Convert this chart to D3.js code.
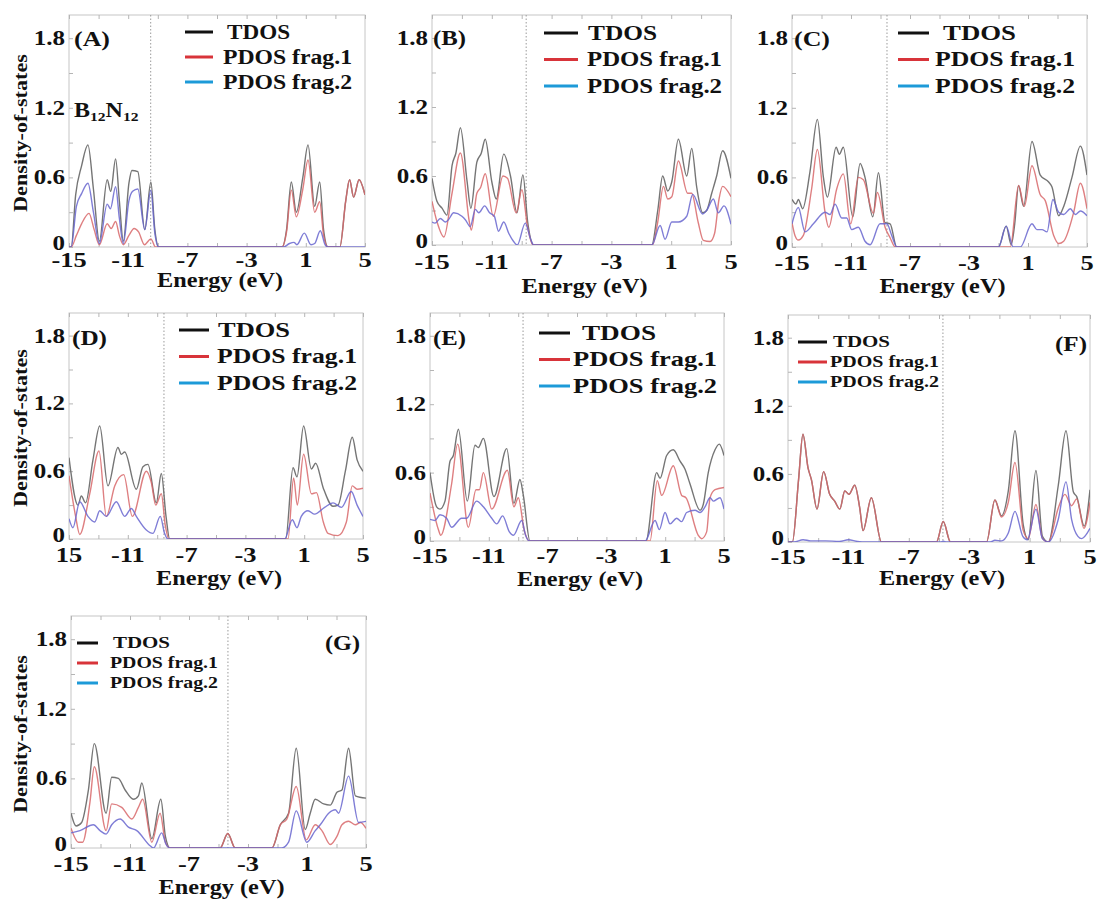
<!DOCTYPE html>
<html>
<head>
<meta charset="utf-8">
<script src="https://cdn.jsdelivr.net/npm/d3@7"></script>
<style>
body { margin: 0; background: #fff; }
text { font-family: "Liberation Serif", "Times New Roman", serif; font-weight: bold; fill: #111; }
</style>
</head>
<body>
<div id="chart-area"></div>
<script>

// ---- data: [energy (eV), DOS] ----
var panelNames = ["(A)", "(B)", "(C)", "(D)", "(E)", "(F)", "(G)"];
var homoLevels = [-9.48, -8.7, -8.56, -8.54, -8.67, -4.74, -4.36];
var legendLabels = ["TDOS", "PDOS frag.1", "PDOS frag.2"];
var yTickValues = [0, 0.6, 1.2, 1.8];
var yTickLabels = ["0", "0.6", "1.2", "1.8"];
var xTickValues = [-15, -11, -7, -3, 1, 5];
var xTickLabels = ["-15", "-11", "-7", "-3", "1", "5"];
var xTickLabelsD = ["15", "-11", "-7", "-3", "1", "5"];

var tdosA = [[-15,0],[-14.85,0],[-14.55,0.45],[-14.15,0.7],[-13.72,0.88],[-13.35,0.5],[-12.95,0.05],[-12.42,0.58],[-12.18,0.48],[-11.85,0.76],[-11.6,0.4],[-11.33,0.05],[-10.95,0.55],[-10.75,0.66],[-10.35,0.65],[-9.88,0.15],[-9.47,0.56],[-9.2,0.15],[-8.95,0],
  [-0.6,0],[-0.3,0.15],[0.02,0.56],[0.36,0.3],[0.8,0.6],[1.15,0.88],[1.6,0.35],[1.94,0.56],[2.2,0.15],[2.5,0],[3.3,0],[3.7,0.4],[3.96,0.58],[4.23,0.43],[4.6,0.58],[5,0.45]];
var pdos1A = [[-15,0],[-14.85,0],[-14.5,0.1],[-14.15,0.2],[-13.65,0.29],[-13.3,0.15],[-12.95,0.02],[-12.42,0.2],[-12.15,0.16],[-11.85,0.22],[-11.6,0.1],[-11.33,0.02],[-10.95,0.1],[-10.6,0.16],[-10.3,0.13],[-9.9,0.02],[-9.47,0.07],[-9.15,0],
  [-0.6,0],[-0.3,0.13],[0.02,0.49],[0.36,0.26],[0.8,0.5],[1.15,0.75],[1.6,0.3],[1.94,0.39],[2.2,0.1],[2.5,0],[3.3,0],[3.7,0.4],[3.96,0.58],[4.23,0.43],[4.6,0.58],[5,0.45]];
var pdos2A = [[-15,0],[-14.85,0],[-14.5,0.35],[-14.15,0.46],[-13.72,0.55],[-13.35,0.3],[-12.95,0.03],[-12.42,0.37],[-12.2,0.33],[-11.85,0.52],[-11.6,0.25],[-11.33,0.03],[-10.95,0.4],[-10.7,0.48],[-10.35,0.5],[-9.88,0.15],[-9.47,0.49],[-9.2,0.12],[-8.95,0],
  [-0.5,0],[-0.1,0.03],[0.2,0.04],[0.4,0.02],[0.9,0.12],[1.35,0.02],[1.6,0.03],[1.98,0.14],[2.3,0.02],[2.5,0],[5,0]];

var tdosB = [[-15,0.58],[-14.67,0.38],[-14.33,0.32],[-14.0,0.26],[-13.66,0.69],[-13.4,0.8],[-13.1,1.02],[-12.66,0.56],[-12.4,0.32],[-12.0,0.72],[-11.7,0.8],[-11.44,0.92],[-11.0,0.55],[-10.7,0.4],[-10.2,0.79],[-9.75,0.6],[-9.32,0.28],[-8.92,0.61],[-8.6,0.2],[-8.2,0],
  [-0.3,0],[0.1,0.3],[0.43,0.6],[0.77,0.47],[1.04,0.55],[1.48,0.92],[2.04,0.6],[2.37,0.84],[2.71,0.5],[3.11,0.28],[3.37,0.3],[3.71,0.45],[4.04,0.6],[4.44,0.82],[5,0.58]];
var pdos1B = [[-15,0.38],[-14.66,0.2],[-14.2,0.07],[-13.66,0.45],[-13.1,0.8],[-12.5,0.2],[-12.37,0.13],[-12.0,0.45],[-11.75,0.5],[-11.44,0.62],[-10.9,0.25],[-10.25,0.6],[-9.95,0.58],[-9.37,0.28],[-8.99,0.48],[-8.6,0.15],[-8.25,0],
  [-0.25,0],[0.1,0.2],[0.48,0.51],[0.77,0.4],[1.04,0.42],[1.48,0.73],[2.1,0.45],[2.37,0.45],[2.8,0.2],[3.15,0.04],[3.6,0.03],[3.9,0.1],[4.2,0.4],[4.44,0.51],[5,0.42]];
var pdos2B = [[-15,0.2],[-14.8,0.19],[-14.44,0.23],[-14.1,0.2],[-13.9,0.22],[-13.55,0.28],[-13.0,0.25],[-12.77,0.22],[-12.44,0.16],[-12.1,0.31],[-11.87,0.28],[-11.48,0.34],[-11.15,0.28],[-10.83,0.25],[-10.55,0.12],[-10.2,0.2],[-9.86,0.1],[-9.54,0.03],[-9.3,0],[-8.76,0.19],[-8.4,0.05],[-8.2,0],
  [-0.3,0],[0.26,0.17],[0.59,0.05],[1.04,0.2],[1.48,0.2],[2.04,0.25],[2.44,0.44],[3.1,0.27],[3.37,0.3],[3.82,0.4],[4.15,0.28],[4.53,0.34],[5,0.18]];

var tdosC = [[-15,0.41],[-14.73,0.37],[-14.57,0.41],[-14.28,0.33],[-13.78,0.65],[-13.28,1.1],[-12.87,0.6],[-12.6,0.43],[-12.01,0.86],[-11.79,0.8],[-11.52,0.86],[-10.88,0.26],[-10.38,0.72],[-10.05,0.6],[-9.52,0.26],[-9.14,0.64],[-8.69,0.21],[-8.35,0.2],[-7.9,0],
  [-1.0,0],[-0.48,0.18],[-0.14,0.02],[0.1,0.2],[0.36,0.53],[0.7,0.35],[1.27,0.91],[1.83,0.62],[2.4,0.56],[2.62,0.52],[3.08,0.27],[3.42,0.35],[3.98,0.6],[4.55,0.87],[5,0.62]];
var pdos1C = [[-15,0.21],[-14.8,0.1],[-14.57,0.06],[-14.23,0.1],[-13.67,0.5],[-13.28,0.84],[-12.76,0.3],[-12.51,0.17],[-11.97,0.5],[-11.52,0.63],[-11.02,0.2],[-10.5,0.6],[-10.16,0.58],[-9.48,0.29],[-9.21,0.47],[-8.69,0.17],[-8.35,0.08],[-8.0,0],
  [-0.2,0],[0.36,0.53],[0.75,0.35],[1.27,0.7],[1.83,0.45],[2.17,0.4],[2.74,0.1],[3.08,0.03],[3.42,0.05],[4.1,0.3],[4.55,0.55],[5,0.33]];
var pdos2C = [[-15,0.2],[-14.57,0.34],[-14.12,0.13],[-13.55,0.2],[-12.76,0.3],[-12.42,0.28],[-12.08,0.37],[-11.63,0.25],[-11.29,0.25],[-10.95,0.15],[-10.5,0.17],[-10.05,0.05],[-9.7,0.02],[-9.03,0.2],[-8.57,0.2],[-8.24,0.1],[-7.9,0],
  [-1.0,0],[-0.48,0.18],[0.0,0],[0.48,0],[1.27,0.2],[1.6,0.15],[1.95,0.15],[2.29,0.13],[2.69,0.41],[3.08,0.3],[3.42,0.28],[3.87,0.33],[4.21,0.28],[4.55,0.31],[5,0.27]];

var tdosD = [[-15,0.72],[-14.39,0.3],[-14.16,0.38],[-13.87,0.32],[-13.37,0.7],[-12.91,1.0],[-12.35,0.47],[-11.67,0.81],[-11.44,0.75],[-11.21,0.77],[-10.42,0.44],[-9.97,0.64],[-9.63,0.66],[-9.06,0.32],[-8.72,0.58],[-8.4,0.2],[-8.15,0],
  [-0.26,0],[0.24,0.63],[0.51,0.55],[0.96,1.0],[1.49,0.62],[1.78,0.67],[2.3,0.45],[2.96,0.29],[3.3,0.3],[3.8,0.6],[4.27,0.9],[4.6,0.7],[5,0.6]];
var pdos1D = [[-15,0.56],[-14.55,0.2],[-14.27,0.04],[-13.59,0.4],[-12.96,0.78],[-12.46,0.2],[-11.89,0.47],[-11.28,0.57],[-10.69,0.2],[-9.74,0.6],[-9.4,0.5],[-9.1,0.3],[-8.72,0.4],[-8.45,0.12],[-8.2,0],
  [-0.1,0],[0.28,0.54],[0.53,0.3],[0.96,0.75],[1.49,0.4],[1.83,0.41],[2.3,0.15],[2.62,0.05],[3.3,0.03],[3.87,0.15],[4.27,0.47],[4.6,0.44],[5,0.45]];
var pdos2D = [[-15,0.18],[-14.73,0.1],[-14.27,0.33],[-13.71,0.2],[-13.25,0.15],[-12.91,0.25],[-12.46,0.2],[-11.78,0.33],[-11.21,0.2],[-10.76,0.27],[-10.42,0.2],[-9.74,0.08],[-9.29,0.05],[-8.79,0.2],[-8.5,0.05],[-8.27,0],
  [-0.33,0],[0.19,0.17],[0.51,0.1],[0.8,0.2],[1.26,0.25],[1.71,0.22],[2.39,0.28],[2.96,0.32],[3.53,0.28],[4.2,0.42],[4.6,0.3],[5,0.2]];

var tdosE = [[-15,0.6],[-14.55,0.3],[-14.32,0.28],[-13.98,0.35],[-13.64,0.7],[-13.41,0.75],[-13.07,0.98],[-12.46,0.35],[-11.94,0.84],[-11.71,0.82],[-11.37,0.9],[-10.65,0.39],[-9.78,0.81],[-9.29,0.33],[-8.88,0.54],[-8.65,0.4],[-8.2,0],
  [-0.31,0],[0.42,0.6],[0.65,0.55],[1.1,0.75],[1.55,0.8],[2.01,0.7],[2.35,0.63],[2.69,0.5],[3.37,0.27],[3.59,0.32],[3.93,0.6],[4.39,0.8],[4.68,0.85],[5,0.75]];
var pdos1E = [[-15,0.42],[-14.43,0.1],[-14.27,0.05],[-13.53,0.5],[-13.12,0.85],[-12.39,0.12],[-11.87,0.45],[-11.64,0.45],[-11.37,0.6],[-10.8,0.28],[-9.74,0.62],[-9.29,0.3],[-8.99,0.38],[-8.6,0.1],[-8.24,0],
  [-0.03,0],[0.46,0.53],[0.76,0.4],[1.55,0.66],[2.12,0.4],[2.41,0.38],[3.25,0.05],[3.48,0.02],[3.82,0.08],[4.05,0.38],[4.39,0.45],[5,0.47]];
var pdos2E = [[-15,0.19],[-14.66,0.18],[-14.32,0.23],[-13.87,0.2],[-13.53,0.12],[-12.85,0.2],[-12.51,0.2],[-11.83,0.35],[-11.37,0.3],[-10.8,0.2],[-10.46,0.15],[-10.06,0.22],[-9.6,0.08],[-9.33,0.05],[-8.76,0.18],[-8.5,0.05],[-8.24,0],
  [-0.37,0],[0.31,0.18],[0.6,0.1],[0.99,0.25],[1.33,0.15],[1.78,0.2],[2.12,0.17],[2.46,0.25],[3.03,0.27],[3.37,0.25],[3.71,0.3],[4.05,0.38],[4.27,0.35],[4.73,0.38],[5,0.28]];

var tdosF = [[-15,0],[-14.71,0],[-14.3,0.55],[-14.01,0.95],[-13.67,0.65],[-13.45,0.55],[-13.08,0.29],[-12.64,0.62],[-12.24,0.42],[-11.91,0.36],[-11.57,0.29],[-11.24,0.45],[-10.96,0.42],[-10.58,0.5],[-10.25,0.3],[-10.03,0.1],[-9.48,0.39],[-8.81,0],
  [-5.17,0],[-4.72,0.18],[-4.24,0],
  [-1.85,0],[-1.3,0.37],[-0.86,0.23],[-0.41,0.45],[0.03,0.98],[0.58,0.15],[0.91,0.02],[1.42,0.63],[1.85,0.05],[2.24,0],[2.9,0.5],[3.41,0.98],[3.9,0.44],[4.12,0.4],[4.62,0.14],[5,0.46]];
var pdos1F = [[-15,0],[-14.71,0],[-14.3,0.55],[-14.01,0.95],[-13.67,0.65],[-13.45,0.55],[-13.08,0.29],[-12.64,0.62],[-12.24,0.42],[-11.91,0.36],[-11.57,0.29],[-11.24,0.45],[-10.96,0.42],[-10.58,0.5],[-10.25,0.3],[-10.03,0.1],[-9.48,0.39],[-8.81,0],
  [-5.17,0],[-4.72,0.18],[-4.24,0],
  [-1.85,0],[-1.3,0.37],[-0.86,0.22],[-0.41,0.35],[0.03,0.7],[0.58,0.1],[0.91,0.03],[1.42,0.33],[1.85,0.03],[2.24,0],[2.9,0.3],[3.34,0.42],[3.78,0.32],[4.12,0.38],[4.6,0.12],[5,0.35]];
var pdos2F = [[-15,0],[-14.6,0],[-14.0,0.02],[-13.5,0.01],[-12.5,0.01],[-11.6,0.005],[-11.0,0.02],[-10.4,0.005],[-9.8,0],[-4.9,0],[-4.72,0.006],[-4.5,0],
  [-1.6,0],[-1.3,0.015],[-0.86,0.01],[-0.41,0.08],[0.03,0.27],[0.55,0.05],[0.85,0.02],[1.42,0.29],[1.85,0.03],[2.24,0],[2.9,0.2],[3.41,0.53],[3.78,0.2],[4.2,0.05],[4.45,0.03],[5,0.12]];

var tdosG = [[-15,0.3],[-14.66,0.19],[-14.28,0.22],[-13.82,0.5],[-13.42,0.9],[-12.62,0.3],[-12.24,0.61],[-11.79,0.6],[-11.33,0.5],[-10.77,0.42],[-10.43,0.45],[-10.2,0.56],[-9.52,0.08],[-8.91,0.42],[-8.6,0.1],[-8.28,0],
  [-4.89,0],[-4.37,0.125],[-3.87,0],
  [-1.38,0],[-0.81,0.2],[-0.25,0.3],[0.27,0.86],[0.88,0.16],[1.22,0.3],[1.56,0.42],[2.13,0.38],[2.58,0.37],[3.03,0.48],[3.37,0.5],[3.82,0.86],[4.28,0.45],[5,0.43]];
var pdos1G = [[-15,0.17],[-14.5,0.05],[-14.21,0.05],[-13.71,0.4],[-13.42,0.7],[-12.62,0.15],[-12.24,0.38],[-11.56,0.35],[-10.88,0.25],[-10.43,0.35],[-10.14,0.42],[-9.52,0.05],[-8.96,0.3],[-8.6,0.05],[-8.28,0],
  [-4.89,0],[-4.37,0.125],[-3.87,0],
  [-1.38,0],[-0.81,0.2],[-0.36,0.25],[0.27,0.53],[0.95,0.07],[1.56,0.2],[2.01,0.15],[2.58,0.03],[3.03,0.1],[3.37,0.2],[3.82,0.23],[4.28,0.2],[4.62,0.22],[5,0.17]];
var pdos2G = [[-15,0.13],[-14.39,0.15],[-13.48,0.2],[-13.03,0.15],[-12.62,0.12],[-12.24,0.2],[-11.67,0.25],[-11.11,0.18],[-10.54,0.15],[-9.64,0.02],[-9.41,0],[-8.85,0.13],[-8.55,0.03],[-8.28,0],
  [-0.7,0],[-0.25,0.05],[0.27,0.32],[0.99,0.05],[1.56,0.15],[1.9,0.2],[2.47,0.3],[2.92,0.33],[3.14,0.3],[3.82,0.62],[4.5,0.22],[5,0.23]];

// ---- layout (pixel boxes of the seven panels) ----
var layout = [
  { l:69,  r:365,  t:15,  b:247, tickDy:20, titleDy:40, leg:{ x:185, y:32,  dy:25,   len:28, tx:223, fs:20,   dt:4,  w:[63,129,129] }, tag:{ x:74,   y:46,  w:36, fs:20, anchor:"start" } },
  { l:432, r:731,  t:15,  b:245, tickDy:24, titleDy:48, leg:{ x:544, y:33,  dy:26.5, len:34, tx:587, fs:21,   dt:1,  w:[69,135,135] }, tag:{ x:433,  y:45,  w:33, fs:20, anchor:"start" } },
  { l:792, r:1087, t:15,  b:247, tickDy:23, titleDy:46, leg:{ x:898, y:33,  dy:26.5, len:31, tx:935, fs:21,   dt:8,  w:[73,140,140] }, tag:{ x:794,  y:46,  w:36, fs:20, anchor:"start" } },
  { l:69,  r:363,  t:313, b:539, tickDy:23, titleDy:46, leg:{ x:179, y:330, dy:26.5, len:30, tx:217, fs:21,   dt:1,  w:[72,140,140] }, tag:{ x:72,   y:345, w:35, fs:20, anchor:"start" } },
  { l:430, r:724,  t:313, b:541, tickDy:22, titleDy:45, leg:{ x:539, y:333, dy:26.5, len:31, tx:573, fs:21,   dt:9,  w:[74,144,144] }, tag:{ x:433,  y:345, w:33, fs:20, anchor:"start" } },
  { l:788, r:1090, t:315, b:542, tickDy:22, titleDy:43, leg:{ x:798, y:342, dy:20,   len:29, tx:830, fs:16.5, dt:3,  w:[57,109,109] }, tag:{ x:1087, y:351, w:32, fs:22, anchor:"end" } },
  { l:71,  r:366,  t:616, b:848, tickDy:23, titleDy:46, leg:{ x:77,  y:643, dy:20,   len:21, tx:110, fs:16.5, dt:3,  w:[57,108,108] }, tag:{ x:360,  y:650, w:35, fs:21, anchor:"end" } }
];

var series = [
  [tdosA, pdos1A, pdos2A], [tdosB, pdos1B, pdos2B], [tdosC, pdos1C, pdos2C],
  [tdosD, pdos1D, pdos2D], [tdosE, pdos1E, pdos2E], [tdosF, pdos1F, pdos2F],
  [tdosG, pdos1G, pdos2G]
];
var lineColors = ["#6e6e6e", "#d8696b", "#6966cf"];
var legendColors = ["#111111", "#d8343a", "#1d9ad8"];
var ylabelPanels = [0, 3, 6];

var svg = d3.select("#chart-area")
    .append("svg")
        .attr("width", 1097)
        .attr("height", 900);

function addText(g, str, x, y, size, anchor, width) {
    var t = g.append("text")
        .attr("x", x)
        .attr("y", y)
        .attr("font-size", size)
        .attr("text-anchor", anchor || "start")
        .text(str);
    if (width) t.attr("textLength", width).attr("lengthAdjust", "spacingAndGlyphs");
    return t;
}

// stretch a label sideways like the (resized) original figure
function widen(t, k) {
    var w = t.node().getComputedTextLength();
    t.attr("textLength", w * k).attr("lengthAdjust", "spacingAndGlyphs");
}

layout.forEach(function(box, i) {
    var g = svg.append("g");

    var x = d3.scaleLinear().domain([-15, 5]).range([box.l, box.r]);
    var y = d3.scaleLinear().domain([0, 2]).range([box.b, box.t]);

    g.append("clipPath").attr("id", "clip" + i)
        .append("rect")
        .attr("x", box.l).attr("y", box.t)
        .attr("width", box.r - box.l).attr("height", box.b - box.t);

    // Frame
    g.append("rect")
        .attr("x", box.l).attr("y", box.t)
        .attr("width", box.r - box.l).attr("height", box.b - box.t)
        .attr("fill", "none")
        .attr("stroke", "#c6c6c6")
        .attr("stroke-width", 1);

    // inward ticks, no labels
    var tickE = d3.range(-15, 5.01, 2);
    var tickY = d3.range(0, 1.81, 0.3);
    [d3.axisTop(x).tickValues(tickE), d3.axisBottom(x).tickValues(tickE)].forEach(function(ax, k) {
        var a = g.append("g")
            .attr("transform", "translate(0," + (k == 0 ? box.t : box.b) + ")")
            .call(ax.tickSize(-4).tickFormat(""));
        a.select(".domain").remove();
        a.selectAll("line").attr("stroke", "#b5b5b5");
    });
    var ya = g.append("g")
        .attr("transform", "translate(" + box.l + ",0)")
        .call(d3.axisLeft(y).tickValues(tickY).tickSize(-4).tickFormat(""));
    ya.select(".domain").remove();
    ya.selectAll("line").attr("stroke", "#b5b5b5");

    // HOMO line
    g.append("line")
        .attr("x1", x(homoLevels[i])).attr("x2", x(homoLevels[i]))
        .attr("y1", box.t).attr("y2", box.b)
        .attr("stroke", "#9a9a9a")
        .attr("stroke-width", 1)
        .attr("stroke-dasharray", "1.5,2");

    // DOS curves
    var line = d3.line()
        .x(function(d) { return x(d[0]); })
        .y(function(d) { return y(d[1]); })
        .curve(d3.curveMonotoneX);

    series[i].forEach(function(s, k) {
        g.append("path")
            .datum(s)
            .attr("clip-path", "url(#clip" + i + ")")
            .attr("d", line)
            .attr("fill", "none")
            .attr("stroke", lineColors[k])
            .attr("stroke-width", 1.4)
            .attr("stroke-opacity", k == 0 ? 0.95 : 0.85);
    });

    // Y tick labels (the "0" sits a little higher to clear the x labels)
    yTickValues.forEach(function(v, k) {
        var t = addText(g, yTickLabels[k], box.l - 4, y(v) + (v == 0 ? 3 : 7), 20, "end");
        widen(t, 1.25);
    });

    // X tick labels
    var labels = (i == 3) ? xTickLabelsD : xTickLabels;
    xTickValues.forEach(function(v, k) {
        var t = addText(g, labels[k], x(v), box.b + box.tickDy, 20, "middle");
        widen(t, 1.32);
    });

    // X Label
    addText(g, "Energy (eV)", (box.l + box.r) / 2 + 3, box.b + box.titleDy, 21, "middle", 126);

    // Y Label
    if (ylabelPanels.indexOf(i) >= 0) {
        g.append("text")
            .attr("transform", "translate(27," + ((box.t + box.b) / 2 + 2) + ") rotate(-90)")
            .attr("font-size", 18)
            .attr("text-anchor", "middle")
            .attr("textLength", 158)
            .attr("lengthAdjust", "spacingAndGlyphs")
            .text("Density-of-states");
    }

    // Panel tag
    addText(g, panelNames[i], box.tag.x, box.tag.y, box.tag.fs, box.tag.anchor, box.tag.w);

    // Legend
    var leg = box.leg;
    legendLabels.forEach(function(lab, k) {
        var ly = leg.y + k * leg.dy;
        g.append("line")
            .attr("x1", leg.x).attr("x2", leg.x + leg.len)
            .attr("y1", ly).attr("y2", ly)
            .attr("stroke", legendColors[k])
            .attr("stroke-width", 3);
        addText(g, lab, leg.tx + (k == 0 ? leg.dt : 0), ly + leg.fs * 0.33, leg.fs, "start", leg.w[k]);
    });

    // B12N12 tag
    if (i == 0) {
        var bn = g.append("text")
            .attr("transform", "translate(74,117) scale(1.2,1)")
            .attr("font-size", 20);
        bn.append("tspan").text("B");
        bn.append("tspan").attr("font-size", 13).attr("dy", 4).text("12");
        bn.append("tspan").attr("dy", -4).text("N");
        bn.append("tspan").attr("font-size", 13).attr("dy", 4).text("12");
    }
});

</script>
</body>
</html>
